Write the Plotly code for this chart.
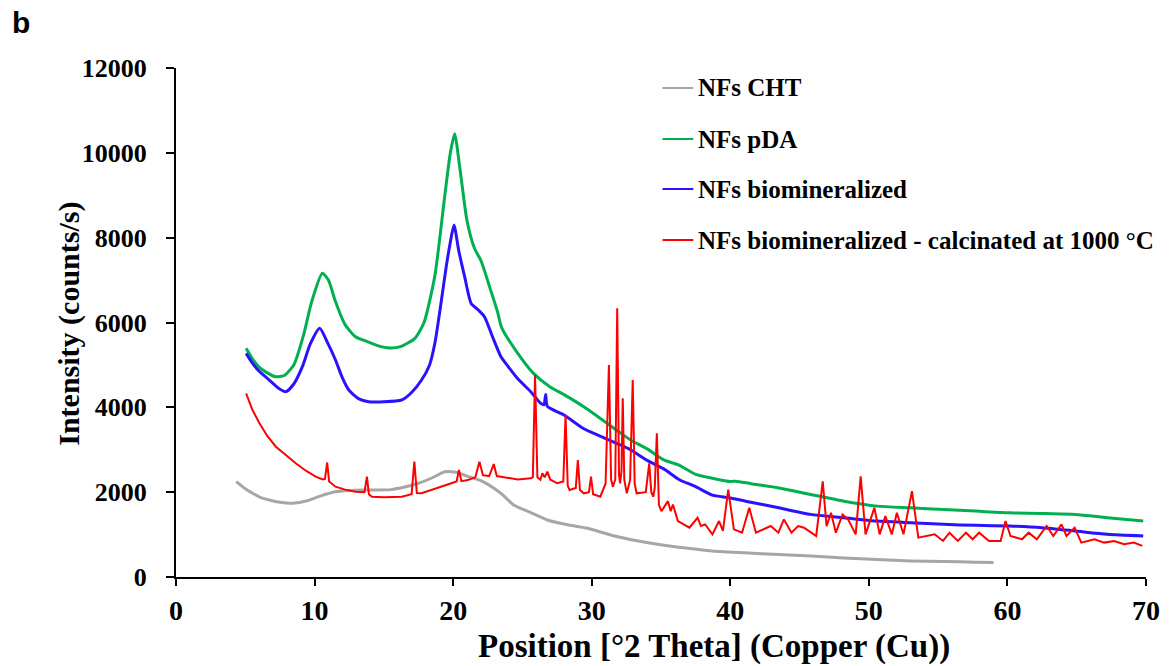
import plotly.graph_objects as go

# ---------------- data ----------------
cht_x = [4.35, 5.0, 5.5, 6.0, 6.73, 7.5, 8.4, 9.5, 10.5, 11.5, 12.5, 13.5, 14.5, 15.5,
         16.5, 17.5, 18.5, 19.4, 20.2, 21.0, 22.0, 23.0, 23.6, 24.4, 25.6, 26.8, 28.0,
         29.7, 31.5, 33.96, 36.3, 38.7, 41.0, 43.5, 45.84, 48.2, 50.6, 53.0, 55.4, 57.7, 59.0]
cht_y = [2247, 2080, 1980, 1890, 1815, 1760, 1737, 1800, 1920, 2010, 2040, 2050, 2050, 2060,
         2120, 2210, 2340, 2480, 2470, 2380, 2270, 2080, 1930, 1690, 1520, 1344, 1250,
         1148, 980, 811, 700, 615, 570, 530, 497, 450, 410, 380, 365, 350, 342]

pda_x = [5.06, 5.5, 6.0, 6.5, 7.2, 7.8, 8.5, 9.2, 9.8, 10.56, 11.0, 11.5, 12.2, 12.95,
         13.8, 14.6, 15.4, 16.2, 17.24, 17.9, 18.68, 19.4, 19.8, 20.11, 20.5, 21.0, 21.54,
         22.02, 22.7, 23.2, 23.5, 24.5, 25.8, 27.0, 28.0, 29.4, 30.4, 31.8, 32.8, 34.0,
         35.2, 36.3, 37.5, 38.7, 40.0, 40.4, 41.5, 43.5, 45.8, 48.2, 50.6, 53.0, 55.4,
         57.7, 60.1, 62.5, 64.9, 67.2, 69.8]
pda_y = [5390, 5150, 4950, 4830, 4720, 4750, 5000, 5700, 6500, 7160, 7000, 6500, 5950, 5665,
         5550, 5450, 5400, 5430, 5627, 6000, 7100, 9000, 10000, 10450, 9600, 8400, 7750,
         7450, 6770, 6255, 5880, 5350, 4800, 4480, 4300, 4020, 3790, 3460, 3230, 3020,
         2760, 2640, 2420, 2330, 2250, 2260, 2200, 2100, 1945, 1787, 1671, 1631, 1591,
         1554, 1513, 1500, 1476, 1398, 1318]

bio_x = [5.06, 5.5, 6.0, 6.73, 7.4, 7.93, 8.5, 9.12, 9.7, 10.37, 10.9, 11.51, 12.0, 12.47,
         13.2, 13.9, 15.0, 16.29, 17.0, 17.72, 18.3, 18.68, 19.1, 19.5, 19.8, 20.06, 20.4,
         20.83, 21.3, 21.8, 22.26, 22.8, 23.45, 24.0, 24.65, 25.6, 26.3, 26.55, 26.68, 26.8,
         28.0, 29.4, 30.4, 31.8, 32.8, 34.0, 35.2, 36.3, 37.5, 38.7, 39.9, 41.1, 43.5,
         45.8, 48.2, 50.6, 53.0, 55.4, 57.7, 60.1, 62.5, 64.9, 67.2, 69.8]
bio_y = [5273, 5050, 4850, 4644, 4450, 4370, 4550, 4958, 5500, 5863, 5550, 5116, 4700, 4408,
         4200, 4133, 4130, 4173, 4350, 4644, 5000, 5509, 6400, 7315, 7900, 8300, 7700,
         7080, 6450, 6300, 6137, 5700, 5194, 4950, 4680, 4369, 4100, 4060, 4300, 4020,
         3819, 3500, 3350, 3150, 3000, 2750, 2550, 2300, 2130, 1930, 1870, 1787, 1631,
         1476, 1398, 1318, 1280, 1241, 1218, 1202, 1163, 1085, 1007, 968]

cal_x = [5.06, 5.5, 6.02, 6.6, 7.21, 8.0, 8.64, 9.4, 10.08, 10.6, 10.75, 10.91, 11.05, 11.51,
         12.2, 12.95, 13.6, 13.78, 13.92, 14.14, 15.0, 16.29, 17.0, 17.2, 17.38, 17.72,
         18.8, 19.87, 20.25, 20.42, 20.6, 21.06, 21.6, 21.9, 22.15, 22.6, 22.93, 23.15,
         23.45, 24.65, 25.6, 25.75, 25.91, 26.08, 26.3, 26.44, 26.6, 26.8, 27.0, 27.51,
         27.95, 28.11, 28.27, 28.4, 28.85, 29.0, 29.15, 29.43, 29.8, 29.95, 30.1, 30.62,
         31.0, 31.24, 31.4, 31.53, 31.7, 31.84, 31.97, 32.05, 32.15, 32.24, 32.35, 32.53,
         32.77, 32.96, 33.1, 33.24, 33.9, 34.15, 34.3, 34.44, 34.55, 34.7, 34.85, 35.03,
         35.5, 35.7, 35.86, 36.22, 37.05, 37.64, 37.88, 38.19, 38.71, 39.19, 39.47, 39.85,
         40.26, 40.85, 41.37, 41.85, 42.92, 43.47, 43.87, 44.42, 44.89, 45.32, 45.84, 46.2,
         46.67, 46.95, 47.27, 47.62, 48.1, 48.5, 49.05, 49.41, 49.76, 50.4, 50.78, 51.19,
         51.66, 52.02, 52.5, 53.11, 53.57, 54.16, 54.75, 55.35, 55.82, 56.42, 57.01, 57.49,
         57.96, 58.67, 59.51, 59.86, 60.22, 61.05, 61.53, 62.12, 62.83, 63.31, 63.9, 64.26,
         64.85, 65.33, 66.28, 66.99, 67.7, 68.42, 69.13, 69.73]
cal_y = [4331, 3950, 3623, 3320, 3072, 2850, 2680, 2500, 2365, 2300, 2310, 2700, 2250, 2129,
         2060, 2011, 2000, 2365, 1950, 1893, 1880, 1893, 1950, 2719, 1980, 1973,
         2100, 2209, 2250, 2522, 2260, 2287, 2350, 2719, 2400, 2380, 2664, 2380,
         2365, 2300, 2327, 2350, 4762, 2350, 2290, 2445, 2350, 2483, 2300, 2209,
         2250, 3819, 2150, 2051, 2100, 2758, 2050, 1973, 2000, 2365, 1950, 1893,
         2200, 4998, 2300, 2129, 2300, 6334, 2400, 2209, 2500, 4212, 2300, 1973,
         2287, 4644, 2200, 1973, 2000, 2680, 2000, 1893, 2100, 3388, 1700, 1550,
         1788, 1550, 1710, 1319, 1163, 1397, 1202, 1241, 1006, 1319, 1085, 2062,
         1124, 1045, 1632, 1045, 1202, 1045, 1358, 1045, 1202, 1163, 1045, 967,
         2257, 1200, 1515, 1045, 1475, 1358, 1006, 2375, 1006, 1632, 1006, 1436,
         1006, 1515, 1006, 2023, 928, 967, 1006, 850, 1045, 850, 1045, 889,
         1045, 850, 850, 1319, 967, 889, 1045, 889, 1202, 967, 1241, 967,
         1163, 811, 889, 811, 850, 772, 811, 733]

series_names = ["NFs CHT", "NFs pDA", "NFs biomineralized",
                "NFs biomineralized - calcinated at 1000 °C"]
series_colors = ["#A6A6A6", "#00B050", "#2B12FF", "#FF0000"]
x_ticks = [0, 10, 20, 30, 40, 50, 60, 70]
y_ticks = [0, 2000, 4000, 6000, 8000, 10000, 12000]

# ---------------- figure ----------------
SERIF = "Liberation Serif, Times New Roman, serif"
W, H = 1172, 666
ML, MR, MT, MB = 176, 19, 68, 89
PW, PH = W - ML - MR, H - MT - MB


def px2paper(px, py):
    return (px - ML) / PW, (H - MB - py) / PH


fig = go.Figure()
specs = [
    (cht_x, cht_y, 3.0, "spline"),
    (pda_x, pda_y, 3.0, "spline"),
    (bio_x, bio_y, 3.0, "spline"),
    (cal_x, cal_y, 2.0, "linear"),
]
for i, (xs, ys, w, shp) in enumerate(specs):
    line = dict(color=series_colors[i], width=w, shape=shp)
    if shp == "spline":
        line["smoothing"] = 0.6
    fig.add_trace(go.Scatter(x=xs, y=ys, mode="lines", name=series_names[i],
                             line=line, showlegend=False))

# legend drawn as shapes + text (keeps the plot area fixed)
row_y = [88, 139, 189, 240]
for i, name in enumerate(series_names):
    x0, y0 = px2paper(666, row_y[i])
    x1, _ = px2paper(697, row_y[i])
    fig.add_shape(type="line", xref="paper", yref="paper", x0=x0, x1=x1, y0=y0, y1=y0,
                  line=dict(color=series_colors[i], width=2))
    tx, _ = px2paper(700, row_y[i])
    fig.add_annotation(text=name, xref="paper", yref="paper", x=tx, y=y0,
                       xanchor="left", yanchor="middle", showarrow=False,
                       font=dict(family=SERIF, size=25, color="black", weight="bold"))

fig.update_layout(
    width=W, height=H, autosize=False,
    margin=dict(l=ML, r=MR, t=MT, b=MB),
    paper_bgcolor="white", plot_bgcolor="white",
    font=dict(family=SERIF, color="black"),
    showlegend=False,
)
fig.update_xaxes(range=[0, 70], tickvals=x_ticks, ticks="outside", ticklen=7,
                 tickwidth=2, tickcolor="black", showline=True, linecolor="black",
                 linewidth=2, showgrid=False, zeroline=False,
                 tickfont=dict(family=SERIF, size=28, color="black", weight="bold"))
fig.update_yaxes(range=[0, 12000], tickvals=y_ticks, tickformat="d", ticks="outside",
                 ticklen=8, tickwidth=2, tickcolor="black", showline=True,
                 linecolor="black", linewidth=2, showgrid=False, zeroline=False,
                 ticklabelstandoff=14,
                 tickfont=dict(family=SERIF, size=26, color="black", weight="bold"))

tx, ty = px2paper(718, 646)
fig.add_annotation(text="Position [°2 Theta] (Copper (Cu))", xref="paper", yref="paper",
                   x=tx, y=ty, xanchor="center", yanchor="middle", showarrow=False,
                   font=dict(family=SERIF, size=33, color="black", weight="bold"))
tx, ty = px2paper(68, 324)
fig.add_annotation(text="Intensity (counts/s)", xref="paper", yref="paper",
                   x=tx, y=ty, xanchor="center", yanchor="middle", showarrow=False,
                   textangle=-90,
                   font=dict(family=SERIF, size=30, color="black", weight="bold"))
tx, ty = px2paper(9, 4)
fig.add_annotation(text="b", xref="paper", yref="paper", x=tx, y=ty,
                   xanchor="left", yanchor="top", showarrow=False,
                   font=dict(family="Liberation Sans, Arial, sans-serif", size=30,
                             color="black", weight="bold"))

fig.write_html("out.html", config={"displayModeBar": False},
               post_script="document.body.style.margin='0';"
                           "document.body.style.overflow='hidden';")
